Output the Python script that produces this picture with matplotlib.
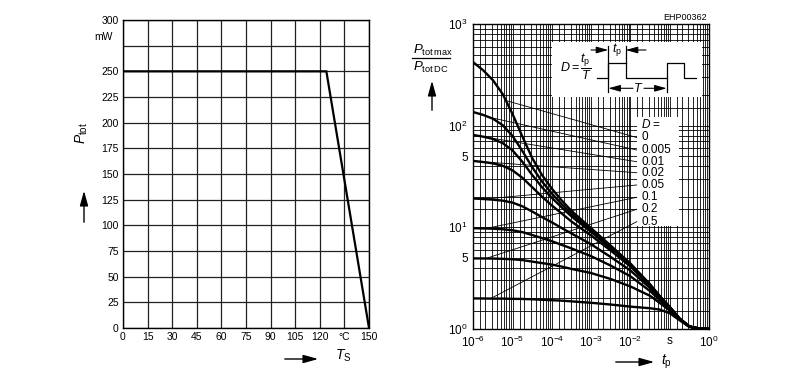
import matplotlib.pyplot as plt
import numpy as np

plt.rcParams['font.family'] = ['Liberation Sans', 'DejaVu Sans']
plt.rcParams['mathtext.fontset'] = 'custom'
plt.rcParams['mathtext.rm'] = 'Liberation Sans'
plt.rcParams['mathtext.it'] = 'Liberation Sans:italic'

W, H = 787, 379

# ---- left chart: total power vs. soldering point temperature
ts_deg = [0, 124, 150]
ptot_mw = [250, 250, 0]
ts_ticks = [0, 15, 30, 45, 60, 75, 90, 105, 120, 135, 150]
ts_tick_labels = ['0', '15', '30', '45', '60', '75', '90', '105', '120', '°C', '150']
p_ticks = [0, 25, 50, 75, 100, 125, 150, 175, 200, 225, 250, 275, 300]
p_tick_labels = ['0', '25', '50', '75', '100', '125', '150', '175', '200', '225', '250', '', '300']

# ---- right chart: permissible pulse load Ptotmax/PtotDC vs. tp
log_tp = [-6, -5.75, -5.5, -5.25, -5, -4.75, -4.5, -4.25, -4, -3.75, -3.5,
          -3, -2.5, -2, -1.5, -1.25, -1, -0.75, -0.5, -0.25, 0]
duty_labels = ['0', '0.005', '0.01', '0.02', '0.05', '0.1', '0.2', '0.5']
ratio_d0 = [420, 351, 280, 204, 130, 78, 48, 32.7, 24, 18.4, 14.5,
            9.8, 6.6, 4.4, 2.75, 2.1, 1.65, 1.27, 1.06, 1.01, 1.0]
ratio_d0005 = [136, 127.6, 117, 101, 79, 56.3, 39, 28.2, 21.5, 16.9, 13.6,
               9.4, 6.4, 4.33, 2.73, 2.09, 1.645, 1.27, 1.06, 1.01, 1.0]
ratio_d001 = [81, 78, 74, 67.3, 57, 44.1, 32.7, 24.8, 19.5, 15.7, 12.8,
              9.0, 6.2, 4.26, 2.70, 2.08, 1.64, 1.27, 1.06, 1.01, 1.0]
ratio_d002 = [45, 43.9, 42.6, 40.3, 36.3, 30.7, 24.8, 20, 16.4, 13.7, 11.4,
              8.3, 5.9, 4.12, 2.66, 2.06, 1.63, 1.26, 1.06, 1.01, 1.0]
ratio_d005 = [19.2, 19.0, 18.7, 18.3, 17.5, 16.1, 14.3, 12.6, 11.2, 9.84, 8.7,
              6.8, 5.1, 3.76, 2.53, 1.99, 1.60, 1.25, 1.057, 1.01, 1.0]
ratio_d01 = [9.8, 9.75, 9.7, 9.58, 9.35, 8.97, 8.4, 7.84, 7.3, 6.72, 6.2,
             5.2, 4.2, 3.3, 2.36, 1.92, 1.57, 1.25, 1.055, 1.01, 1.0]
ratio_d02 = [4.95, 4.94, 4.93, 4.90, 4.85, 4.76, 4.6, 4.45, 4.3, 4.11, 3.9,
             3.55, 3.1, 2.62, 2.12, 1.8, 1.52, 1.24, 1.05, 1.01, 1.0]
ratio_d05 = [2.0, 1.995, 1.99, 1.99, 1.98, 1.975, 1.96, 1.94, 1.92, 1.90, 1.87,
             1.81, 1.74, 1.66, 1.6, 1.55, 1.43, 1.22, 1.05, 1.01, 1.0]
curves = [ratio_d0, ratio_d0005, ratio_d001, ratio_d002, ratio_d005, ratio_d01, ratio_d02, ratio_d05]
# where each label's leader line touches its curve (log10 tp)
leader_log_tp = [-5.17, -5.6, -5.7, -5.85, -5.72, -5.68, -5.68, -5.56]

tp_ticks = [1e-6, 1e-5, 1e-4, 1e-3, 1e-2, 1e-1, 1e0]
tp_tick_labels = [r'$\mathregular{10^{-6}}$', r'$\mathregular{10^{-5}}$', r'$\mathregular{10^{-4}}$',
                  r'$\mathregular{10^{-3}}$', r'$\mathregular{10^{-2}}$', 's', r'$\mathregular{10^{0}}$']
r_ticks = [1, 5, 10, 50, 100, 1000]
r_tick_labels = [r'$\mathregular{10^{0}}$', '5', r'$\mathregular{10^{1}}$', '5',
                 r'$\mathregular{10^{2}}$', r'$\mathregular{10^{3}}$']
grid_subs = [1.5, 2, 3, 4, 5, 6, 7, 8, 9]


def fx(px):
    return px / W


def fy(py):
    return 1 - py / H


def fig_arrow(fig, x0, y0, x1, y1):
    fig.add_artist(plt.matplotlib.patches.FancyArrowPatch(
        (fx(x0), fy(y0)), (fx(x1), fy(y1)), transform=fig.transFigure,
        arrowstyle='-|>,head_length=0.9,head_width=0.25', mutation_scale=10,
        color='black', lw=1))


fig = plt.figure(figsize=(W / 100, H / 100), dpi=100)

# left
ax1 = fig.add_axes([fx(123), fy(328), fx(369) - fx(123), fy(20) - fy(328)])
ax1.plot(ts_deg, ptot_mw, color='black', lw=1.6, zorder=3, solid_joinstyle='miter')
ax1.set_xlim(0, 150)
ax1.set_ylim(0, 300)
ax1.set_xticks(ts_ticks)
ax1.set_xticklabels(ts_tick_labels, fontsize=7.5)
ax1.set_yticks(p_ticks)
ax1.set_yticklabels(p_tick_labels, fontsize=7.5)
ax1.tick_params(length=0, pad=3)
ax1.grid(color='#222222', lw=0.9)
ax1.set_axisbelow(True)
for s in ax1.spines.values():
    s.set_linewidth(1)
fig.text(fx(103), fy(37), 'mW', fontsize=7.5, ha='center', va='center')
fig.text(fx(82), fy(133), r'$P_\mathrm{tot}$', fontsize=10, rotation=90, ha='center', va='center')
fig_arrow(fig, 84, 225, 84, 188)
fig.text(fx(343), fy(356), r'$T_\mathrm{S}$', fontsize=10, ha='center', va='center')
fig_arrow(fig, 282, 359, 321, 359)

# right
x0, x1, y0, y1 = 473.3, 709, 24, 329
ax2 = fig.add_axes([fx(x0), fy(y1), fx(x1) - fx(x0), fy(y0) - fy(y1)])
ax2.set_xscale('log')
ax2.set_yscale('log')
ax2.set_xlim(1e-6, 1)
ax2.set_ylim(1, 1000)
ax2.set_xticks(tp_ticks)
ax2.set_xticklabels(tp_tick_labels, fontsize=8.5)
ax2.set_yticks(r_ticks)
ax2.set_yticklabels(r_tick_labels, fontsize=8.5)
ax2.set_xticks([k * 10.0 ** e for e in range(-6, 0) for k in grid_subs], minor=True)
ax2.set_yticks([k * 10.0 ** e for e in range(0, 3) for k in grid_subs], minor=True)
ax2.set_xticklabels([], minor=True)
ax2.set_yticklabels([], minor=True)
ax2.tick_params(which='both', length=0, pad=4)
ax2.grid(which='both', color='black', lw=0.6)
ax2.set_axisbelow(True)
for s in ax2.spines.values():
    s.set_linewidth(1)

tp = 10.0 ** np.array(log_tp)
for r in curves:
    ax2.plot(tp, r, color='black', lw=1.7, zorder=3)

# white area behind the duty cycle labels
ax2.add_patch(plt.Rectangle(((637 - x0) / (x1 - x0), (y1 - 226) / (y1 - y0)),
                            (679 - 637) / (x1 - x0), (226 - 116.7) / (y1 - y0),
                            transform=ax2.transAxes, facecolor='white', edgecolor='none', zorder=1))

label_x = (641 - x0) / (x1 - x0)
label_py = [137.5, 150, 161.7, 172.7, 185, 197.3, 209.3, 221.7]
ax2.text(label_x, (y1 - 124) / (y1 - y0), r'$D$ =', transform=ax2.transAxes,
         fontsize=8.5, va='center', ha='left', zorder=4)
end_tp = 10 ** (-6 + 6 * (636.7 - x0) / (x1 - x0))
for lab, py, lt, r in zip(duty_labels, label_py, leader_log_tp, curves):
    fyy = (y1 - py) / (y1 - y0)
    ax2.text(label_x, fyy, lab, transform=ax2.transAxes, fontsize=8.5,
             va='center', ha='left', zorder=4)
    r_start = 10 ** np.interp(lt, log_tp, np.log10(r))
    ax2.plot([10 ** lt, end_tp], [r_start, 10 ** (3 * fyy)], color='black', lw=0.6, zorder=2)

# pulse sketch inset (pixel coordinates)
axi = fig.add_axes([fx(552), fy(97), fx(702) - fx(552), fy(42) - fy(97)])
axi.set_xlim(552, 702)
axi.set_ylim(97, 42)
axi.axis('off')
axi.add_patch(plt.Rectangle((552, 42), 150, 55, facecolor='white', edgecolor='none'))
axi.plot([596.7, 608.3, 608.3, 625.7, 625.7, 666.7, 666.7, 684, 684, 696],
         [78.3, 78.3, 62.7, 62.7, 78.3, 78.3, 62.7, 62.7, 78.3, 78.3], color='black', lw=0.9)
axi.plot([608.3, 608.3], [46, 92], color='black', lw=0.9)
axi.plot([625.7, 625.7], [46, 62.7], color='black', lw=0.9)
axi.plot([666.7, 666.7], [78.3, 92], color='black', lw=0.9)
arr = dict(arrowstyle='-|>,head_length=0.9,head_width=0.25', mutation_scale=8, color='black', lw=0.8,
           shrinkA=0, shrinkB=0)
axi.annotate('', xy=(608.3, 50), xytext=(591, 50), arrowprops=arr)
axi.annotate('', xy=(625.7, 50), xytext=(646, 50), arrowprops=arr)
axi.annotate('', xy=(608.3, 88.3), xytext=(633, 88.3), arrowprops=arr)
axi.annotate('', xy=(666.7, 88.3), xytext=(644, 88.3), arrowprops=arr)
axi.text(617, 50, r'$t_\mathrm{p}$', fontsize=9, ha='center', va='center')
axi.text(638.5, 88, r'$T$', fontsize=9, ha='center', va='center')
axi.text(576, 67, r'$D = \dfrac{t_\mathrm{p}}{T}$', fontsize=9, ha='center', va='center')

fig.text(fx(707), fy(18), 'EHP00362', fontsize=6.5, ha='right', va='center')
fig.text(fx(413), fy(50), r'$P_\mathrm{tot\,max}$', fontsize=9.5, ha='left', va='center')
fig.text(fx(413), fy(67), r'$P_\mathrm{tot\,DC}$', fontsize=9.5, ha='left', va='center')
fig.add_artist(plt.Line2D([fx(412), fx(450)], [fy(57.5), fy(57.5)], color='black', lw=0.9))
fig_arrow(fig, 432, 113, 432, 78)
fig_arrow(fig, 613, 362, 657, 362)
fig.text(fx(666), fy(362), r'$t_\mathrm{p}$', fontsize=10, ha='center', va='center')

fig.savefig('out.png', dpi=100)
